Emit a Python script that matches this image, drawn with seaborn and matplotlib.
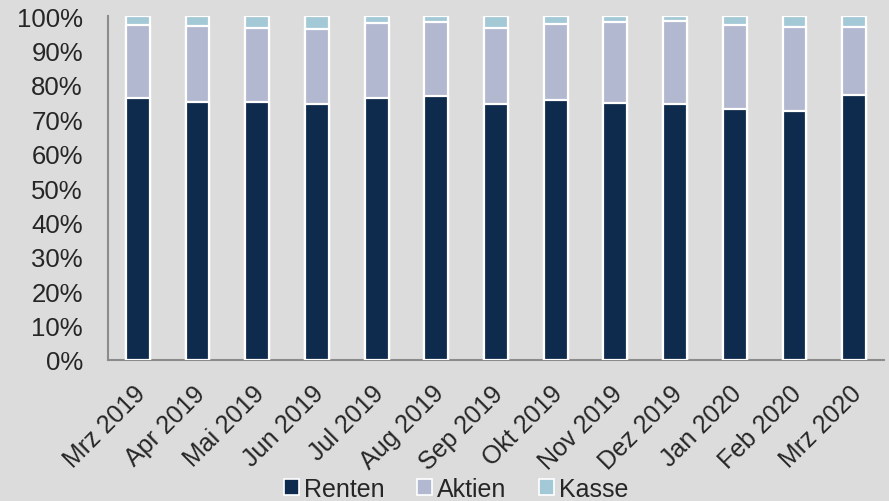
import matplotlib
matplotlib.use("Agg")
import matplotlib.pyplot as plt
import matplotlib.transforms as mtransforms
from matplotlib.patches import Patch
import seaborn as sns
import numpy as np
import pandas as pd

months = ["Mrz 2019", "Apr 2019", "Mai 2019", "Jun 2019", "Jul 2019", "Aug 2019",
          "Sep 2019", "Okt 2019", "Nov 2019", "Dez 2019", "Jan 2020", "Feb 2020", "Mrz 2020"]
renten = [76.2, 75.0, 74.9, 74.5, 76.1, 76.6, 74.5, 75.5, 74.6, 74.3, 73.0, 72.3, 76.9]
aktien = [21.3, 22.0, 21.7, 21.7, 22.0, 21.7, 22.0, 22.3, 23.7, 24.2, 24.4, 24.4, 19.8]
kasse = [2.5, 3.0, 3.4, 3.8, 1.9, 1.7, 3.5, 2.2, 1.7, 1.5, 2.6, 3.3, 3.3]
series_names = ["Renten", "Aktien", "Kasse"]
colors = {"Renten": "#0E2A4C", "Aktien": "#B3B8D1", "Kasse": "#A3C8D6"}

df = pd.DataFrame({"Monat": months, "Renten": renten, "Aktien": aktien, "Kasse": kasse})
df["c_Renten"] = df["Renten"]
df["c_Aktien"] = df["Renten"] + df["Aktien"]
df["c_Kasse"] = df["c_Aktien"] + df["Kasse"]

sns.set_style("white")
plt.rcParams["font.family"] = ["Liberation Sans", "DejaVu Sans"]
bg = "#DCDCDC"
fig = plt.figure(figsize=(8.89, 5.02), dpi=100, facecolor=bg)
ax = fig.add_axes([108/889, 1 - 361/502, (884-108)/889, (361-17)/502])
ax.set_facecolor(bg)

for name in ["Kasse", "Aktien", "Renten"]:
    sns.barplot(data=df, x="Monat", y="c_" + name, color=colors[name], width=0.40,
                edgecolor="white", linewidth=1.6, saturation=1, ax=ax, zorder=3)

ax.set_xlim(-0.5, len(months) - 0.5)
ax.set_ylim(0, 100)
ax.set_yticks(np.arange(0, 101, 10))
ax.set_yticklabels([f"{v}%" for v in range(0, 101, 10)], fontsize=18.5)
ax.set_xlabel("")
ax.set_ylabel("")
ax.set_xticks(np.arange(-0.5, len(months), 1), minor=False)
ax.set_xticklabels([])
ax.set_xticks(np.arange(len(months)), minor=True)
ax.set_xticklabels(months, minor=True, rotation=45, ha="right", rotation_mode="anchor", fontsize=18)
ax.tick_params(axis="x", which="minor", length=0, pad=15)
ax.tick_params(axis="x", which="major", length=6, width=1.5, color="#8C8C8C", direction="out")
ax.tick_params(axis="y", length=6, width=1.5, color="#8C8C8C", direction="out", pad=12)

offset = mtransforms.ScaledTranslation(-5/100, 0, fig.dpi_scale_trans)
for lbl in ax.get_xticklabels(minor=True):
    lbl.set_transform(lbl.get_transform() + offset)

for s in ["top", "right"]:
    ax.spines[s].set_visible(False)
for s in ["left", "bottom"]:
    ax.spines[s].set_color("#8C8C8C")
    ax.spines[s].set_linewidth(1.5)

handles = [Patch(facecolor=colors[n], edgecolor="white", linewidth=1.2, label=n) for n in series_names]
fig.legend(handles=handles, loc="center", bbox_to_anchor=(456/889, 1 - 490/502), ncol=3,
           frameon=False, fontsize=18, handlelength=0.6, handleheight=0.6,
           handletextpad=0.2, columnspacing=1.3, borderpad=0)

fig.savefig("out.png", dpi=100, facecolor=bg)
